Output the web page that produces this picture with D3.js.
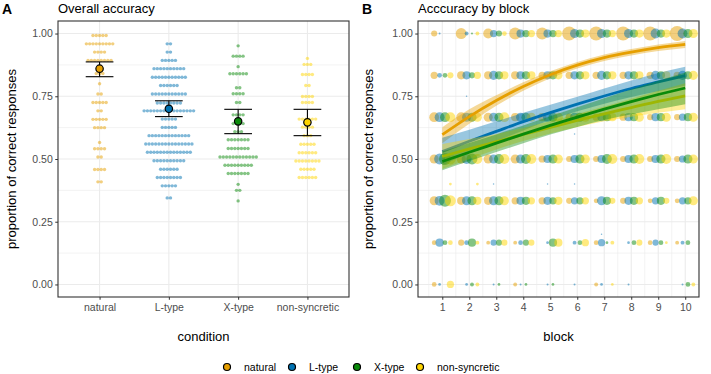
<!DOCTYPE html>
<html><head><meta charset="utf-8">
<script src="https://cdn.jsdelivr.net/npm/d3@7"></script>
<style>body{margin:0;background:#fff} text{font-family:"Liberation Sans",Arial,Helvetica,sans-serif}</style>
</head><body><svg id="c" width="711" height="374"></svg>
<script>
// ---------------- data ----------------
const conditions = ["natural", "L-type", "X-type", "non-syncretic"];
const colors = ["#E69F00", "#0072B2", "#0A8A0A", "#FFD500"];
const yTickValues = [0, 0.25, 0.5, 0.75, 1];
const blocks = [1, 2, 3, 4, 5, 6, 7, 8, 9, 10];

// Panel A: dot rows per condition, [accuracy, number of participants]
const naturalRows = [[0.992,5],[0.959,9],[0.926,4],[0.893,8],[0.841,3],[0.800,1],[0.759,2],[0.725,5],[0.692,2],[0.658,5],[0.625,4],[0.566,1],[0.541,4],[0.508,2],[0.458,4],[0.409,2]];
const ltypeRows = [[0.959,2],[0.926,2],[0.893,5],[0.860,10],[0.826,11],[0.793,6],[0.759,11],[0.723,8],[0.692,16],[0.659,5],[0.626,5],[0.593,13],[0.560,15],[0.527,14],[0.493,10],[0.459,6],[0.426,8],[0.393,5],[0.345,2]];
const xtypeRows = [[0.951,1],[0.910,4],[0.868,1],[0.840,6],[0.784,2],[0.760,4],[0.725,2],[0.676,4],[0.641,4],[0.609,3],[0.577,7],[0.542,7],[0.508,12],[0.475,9],[0.442,7],[0.399,1],[0.375,2],[0.333,1]];
const nonsyncRows = [[0.901,1],[0.877,3],[0.837,4],[0.793,2],[0.749,4],[0.725,4],[0.659,6],[0.627,4],[0.593,3],[0.559,5],[0.525,6],[0.492,8],[0.459,5],[0.426,6]];
const meanAcc = [0.860, 0.700, 0.650, 0.646];
const ciLow = [0.828, 0.669, 0.601, 0.593];
const ciHigh = [0.887, 0.732, 0.698, 0.698];

// Panel B: counts per accuracy level (rows) x block (cols)
const accLevels = [1, 5/6, 2/3, 1/2, 1/3, 1/6, 0];
const naturalCounts = [
  [5,16,13,19,19,26,26,26,26,30],
  [7,9,9,9,7,7,7,7,7,7],
  [13,13,11,9,9,7,7,7,5,5],
  [11,11,11,11,7,5,5,5,5,5],
  [11,9,9,7,7,5,3,5,3,3],
  [3,5,2,2,0,0,3,0,3,2],
  [3,0,0,2,0,0,2,0,0,0]];
const ltypeCounts = [
  [0.5,2,7,9,9,11,11,11,13,13],
  [3,9,11,9,9,9,11,9,11,11],
  [13,11,11,11,11,11,9,9,9,7],
  [16,13,11,11,9,9,9,9,9,7],
  [13,11,11,9,9,7,11,9,7,7],
  [9,3,5,3,1,2,7,1,5,2],
  [1,1,0.5,0.5,0.5,0.5,1,0.5,0,0.5]];
const xtypeCounts = [
  [0,0.5,5,7,7,9,9,9,9,11],
  [3,5,9,9,9,9,9,9,9,9],
  [13,11,11,11,11,11,9,9,9,9],
  [19,16,13,13,11,11,13,11,11,11],
  [19,11,11,9,7,7,9,9,9,7],
  [3,9,5,5,9,3,1,3,3,3],
  [0,2,1,1,1,0,0,0,0,3]];
const nonsyncCounts = [
  [0,2,3,7,7,9,7,9,9,11],
  [5,7,9,9,9,9,9,9,9,11],
  [13,11,13,11,11,11,9,11,11,11],
  [16,13,13,13,11,11,13,13,13,11],
  [16,9,11,7,9,7,5,7,5,11],
  [3,2,5,5,9,7,2,5,1,0],
  [7,2,0,0,0,0,1,0,0,2]];
// odd accuracy values: [condition index, block, accuracy, count]
const extraPoints = [[3,1,0.4,1],[3,2,0.4,1],[1,3,0.4,0.3],[1,5,0.4,0.3],[1,6,0.4,0.3],[1,2,0.75,0.3],[1,6,0.6,0.3],[1,7,0.2,0.3]];

// Panel B fitted curves per block
const naturalFit = [0.597,0.669,0.733,0.789,0.836,0.874,0.904,0.926,0.944,0.957];
const naturalLo  = [0.563,0.640,0.712,0.772,0.822,0.861,0.891,0.913,0.930,0.942];
const naturalHi  = [0.627,0.698,0.754,0.806,0.850,0.887,0.916,0.938,0.956,0.970];
const ltypeFit = [0.530,0.571,0.610,0.649,0.685,0.719,0.751,0.781,0.807,0.832];
const ltypeLo  = [0.475,0.525,0.570,0.614,0.655,0.690,0.720,0.747,0.770,0.792];
const ltypeHi  = [0.585,0.617,0.650,0.684,0.716,0.748,0.781,0.813,0.843,0.868];
const xtypeFit = [0.490,0.527,0.563,0.599,0.634,0.667,0.699,0.729,0.757,0.783];
const xtypeLo  = [0.455,0.492,0.528,0.563,0.598,0.628,0.655,0.678,0.698,0.718];
const xtypeHi  = [0.530,0.564,0.598,0.634,0.670,0.706,0.742,0.778,0.812,0.845];
const nonsyncFit = [0.510,0.540,0.569,0.598,0.626,0.654,0.680,0.705,0.730,0.752];
const nonsyncLo  = [0.460,0.500,0.538,0.572,0.602,0.628,0.650,0.668,0.684,0.698];
const nonsyncHi  = [0.560,0.580,0.600,0.624,0.650,0.679,0.709,0.740,0.772,0.802];

const dotRows = [naturalRows, ltypeRows, xtypeRows, nonsyncRows];
const blockCounts = [naturalCounts, ltypeCounts, xtypeCounts, nonsyncCounts];
const fits = [[naturalFit,naturalLo,naturalHi],[ltypeFit,ltypeLo,ltypeHi],[xtypeFit,xtypeLo,xtypeHi],[nonsyncFit,nonsyncLo,nonsyncHi]];

// ---------------- drawing ----------------
const svg = d3.select("#c");
const pTop = 21, pBottom = 297;
const A = {l: 58, r: 349}, B = {l: 418, r: 699};
const tickCol = "#333333", labCol = "#4D4D4D", gridCol = "#EBEBEB";

const yScale = d3.scaleLinear().domain([-0.05, 1.05]).range([pBottom, pTop]);
const xA = d3.scalePoint().domain(conditions).range([A.l, A.r]).padding(0.6);
const xB = d3.scaleLinear().domain([0.1, 10.51]).range([B.l, B.r]);
const rScale = d3.scaleSqrt().domain([0, 30]).range([0, 7.5]);

function yGrid(g, x0, x1) {
  const minor = [0.125, 0.375, 0.625, 0.875];
  g.selectAll(null).data(minor).enter().append("line")
    .attr("x1", x0).attr("x2", x1).attr("y1", d => yScale(d)).attr("y2", d => yScale(d))
    .attr("stroke", gridCol).attr("stroke-width", 0.6);
  g.selectAll(null).data(yTickValues).enter().append("line")
    .attr("x1", x0).attr("x2", x1).attr("y1", d => yScale(d)).attr("y2", d => yScale(d))
    .attr("stroke", gridCol).attr("stroke-width", 1.1);
}
function styleAxis(g) {
  g.select(".domain").remove();
  g.selectAll(".tick line").attr("stroke", tickCol).attr("stroke-width", 1);
  g.selectAll(".tick text").attr("fill", labCol).attr("font-size", "10.5px")
    .style("font-family", '"Liberation Sans",Arial,sans-serif');
}

// ----- Panel A -----
const gA = svg.append("g");
yGrid(gA, A.l, A.r);
gA.selectAll(null).data(conditions).enter().append("line")
  .attr("x1", d => xA(d)).attr("x2", d => xA(d)).attr("y1", pTop).attr("y2", pBottom)
  .attr("stroke", gridCol).attr("stroke-width", 1.1);

const dotStep = 3.3;
conditions.forEach((c, ci) => {
  const pts = [];
  dotRows[ci].forEach(([acc, n]) => {
    for (let i = 0; i < n; i++) pts.push({acc, off: (i - (n - 1) / 2) * dotStep});
  });
  gA.selectAll(null).data(pts).enter().append("circle")
    .attr("cx", d => xA(c) + d.off).attr("cy", d => yScale(d.acc)).attr("r", 1.7)
    .attr("fill", colors[ci]).attr("fill-opacity", 0.5);
});
const capHalf = xA.step() * 0.2;
conditions.forEach((c, ci) => {
  const x = xA(c);
  gA.append("line").attr("x1", x).attr("x2", x).attr("y1", yScale(ciLow[ci])).attr("y2", yScale(ciHigh[ci]))
    .attr("stroke", "#000").attr("stroke-width", 1.1);
  [ciLow[ci], ciHigh[ci]].forEach(v => gA.append("line").attr("x1", x - capHalf).attr("x2", x + capHalf)
    .attr("y1", yScale(v)).attr("y2", yScale(v)).attr("stroke", "#000").attr("stroke-width", 1.1));
  gA.append("circle").attr("cx", x).attr("cy", yScale(meanAcc[ci])).attr("r", 3.7)
    .attr("fill", colors[ci]).attr("stroke", "#000").attr("stroke-width", 1.2);
});
gA.append("rect").attr("x", A.l).attr("y", pTop).attr("width", A.r - A.l).attr("height", pBottom - pTop)
  .attr("fill", "none").attr("stroke", "#333333").attr("stroke-width", 1.1);
const axAy = svg.append("g").attr("transform", `translate(${A.l},0)`)
  .call(d3.axisLeft(yScale).tickValues(yTickValues).tickFormat(d3.format(".2f")).tickSize(2.75).tickPadding(2.5));
styleAxis(axAy);
const axAx = svg.append("g").attr("transform", `translate(0,${pBottom})`)
  .call(d3.axisBottom(xA).tickSize(2.75).tickPadding(3.5));
styleAxis(axAx);

// ----- Panel B -----
const gB = svg.append("g");
yGrid(gB, B.l, B.r);
const minorX = [0.5, 1.5, 2.5, 3.5, 4.5, 5.5, 6.5, 7.5, 8.5, 9.5, 10.5];
gB.selectAll(null).data(minorX).enter().append("line")
  .attr("x1", d => xB(d)).attr("x2", d => xB(d)).attr("y1", pTop).attr("y2", pBottom)
  .attr("stroke", gridCol).attr("stroke-width", 0.6);
gB.selectAll(null).data(blocks).enter().append("line")
  .attr("x1", d => xB(d)).attr("x2", d => xB(d)).attr("y1", pTop).attr("y2", pBottom)
  .attr("stroke", gridCol).attr("stroke-width", 1.1);

svg.append("clipPath").attr("id", "clipB").append("rect")
  .attr("x", B.l).attr("y", pTop).attr("width", B.r - B.l).attr("height", pBottom - pTop);
const gBc = gB.append("g").attr("clip-path", "url(#clipB)");
const dodge = [-0.3, -0.1, 0.1, 0.3];
const bubbles = [];
accLevels.forEach((acc, li) => {
  blocks.forEach((b, bi) => {
    conditions.forEach((c, ci) => {
      const n = blockCounts[ci][li][bi];
      if (n > 0) bubbles.push({ci, x: b + dodge[ci], acc, n});
    });
  });
});
extraPoints.forEach(([ci, b, acc, n]) => bubbles.push({ci, x: b + dodge[ci], acc, n}));
gBc.selectAll(null).data(bubbles).enter().append("circle")
  .attr("cx", d => xB(d.x)).attr("cy", d => yScale(d.acc)).attr("r", d => rScale(d.n))
  .attr("fill", d => colors[d.ci]).attr("fill-opacity", 0.5);

const drawOrder = [0, 1, 3, 2];
drawOrder.forEach(ci => {
  const [fit, lo, hi] = fits[ci];
  const pts = blocks.map((b, i) => ({b, f: fit[i], lo: lo[i], hi: hi[i]}));
  const area = d3.area().x(d => xB(d.b)).y0(d => yScale(d.lo)).y1(d => yScale(d.hi)).curve(d3.curveMonotoneX);
  const line = d3.line().x(d => xB(d.b)).y(d => yScale(d.f)).curve(d3.curveMonotoneX);
  gBc.append("path").attr("d", area(pts)).attr("fill", colors[ci]).attr("fill-opacity", 0.4);
  gBc.append("path").attr("d", line(pts)).attr("fill", "none").attr("stroke", colors[ci]).attr("stroke-width", 2.8);
});
gB.append("rect").attr("x", B.l).attr("y", pTop).attr("width", B.r - B.l).attr("height", pBottom - pTop)
  .attr("fill", "none").attr("stroke", "#333333").attr("stroke-width", 1.1);
const axBy = svg.append("g").attr("transform", `translate(${B.l},0)`)
  .call(d3.axisLeft(yScale).tickValues(yTickValues).tickFormat(d3.format(".2f")).tickSize(2.75).tickPadding(2.5));
styleAxis(axBy);
const axBx = svg.append("g").attr("transform", `translate(0,${pBottom})`)
  .call(d3.axisBottom(xB).tickValues(blocks).tickFormat(d3.format("d")).tickSize(2.75).tickPadding(3.5));
styleAxis(axBx);

// ----- titles -----
svg.append("text").attr("x", 2).attr("y", 14).attr("font-size", "14px").attr("font-weight", "bold").text("A");
svg.append("text").attr("x", 362).attr("y", 14).attr("font-size", "14px").attr("font-weight", "bold").text("B");
svg.append("text").attr("x", A.l).attr("y", 13).attr("font-size", "13px").text("Overall accuracy");
svg.append("text").attr("x", B.l).attr("y", 13).attr("font-size", "13px").text("Acccuracy by block");
svg.append("text").attr("x", (A.l + A.r) / 2).attr("y", 341).attr("text-anchor", "middle").attr("font-size", "13px").text("condition");
svg.append("text").attr("x", (B.l + B.r) / 2).attr("y", 341).attr("text-anchor", "middle").attr("font-size", "13px").text("block");
[16, 373].forEach(x => {
  svg.append("text").attr("transform", `translate(${x},${(pTop + pBottom) / 2}) rotate(-90)`)
    .attr("text-anchor", "middle").attr("font-size", "13px").text("proportion of correct responses");
});

// ----- legend -----
const legX = [227, 292, 357, 420];
const lg = svg.append("g");
conditions.forEach((c, ci) => {
  lg.append("circle").attr("cx", legX[ci]).attr("cy", 367).attr("r", 3.5)
    .attr("fill", colors[ci]).attr("stroke", "#000").attr("stroke-width", 1.2);
  lg.append("text").attr("x", legX[ci] + 17).attr("y", 370.8).attr("font-size", "10.5px").attr("fill", "#000").text(c);
});
</script></body></html>
